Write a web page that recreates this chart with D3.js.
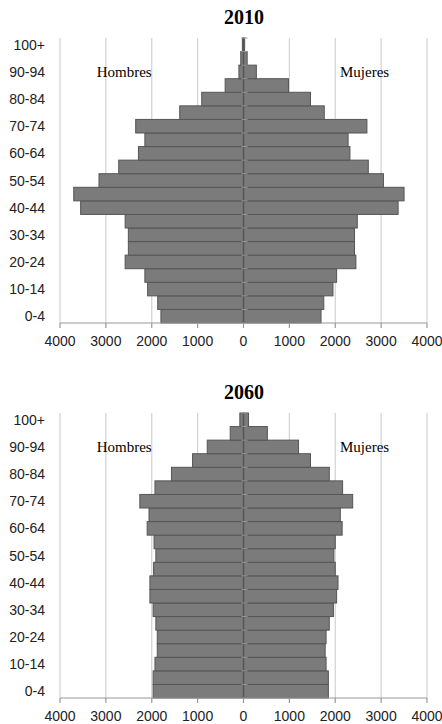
<!DOCTYPE html>
<html>
<head>
<meta charset="utf-8">
<script src="https://cdn.jsdelivr.net/npm/d3@7"></script>
<style>
  body { margin: 0; background: #fff; }
  svg { display: block; }
</style>
</head>
<body>
<svg id="chart"></svg>
<script>
// age groups, bottom to top
const ages = ["0-4","5-9","10-14","15-19","20-24","25-29","30-34","35-39","40-44","45-49",
  "50-54","55-59","60-64","65-69","70-74","75-79","80-84","85-89","90-94","95-99","100+"];

const hombres2010 = [1800,1870,2090,2150,2580,2510,2510,2580,3550,3700,3150,2720,2290,2150,2350,1390,910,400,100,60,25];
const mujeres2010 = [1690,1750,1950,2030,2450,2420,2420,2480,3370,3500,3050,2720,2320,2280,2690,1760,1460,980,280,80,25];

const hombres2060 = [1970,1970,1930,1880,1880,1910,1970,2040,2040,1960,1910,1950,2100,2060,2260,1930,1570,1110,790,290,80];
const mujeres2060 = [1850,1850,1800,1780,1800,1870,1960,2030,2060,2000,1970,2000,2150,2110,2380,2160,1870,1460,1200,520,110];

const xTicks = [-4000,-3000,-2000,-1000,0,1000,2000,3000,4000];

const width = 442, height = 724;
const svg = d3.select("#chart").attr("width", width).attr("height", height);

const x = d3.scaleLinear().domain([-4000, 4000]).range([60, 427]);

function pyramid(title, hombres, mujeres, top, bottom) {
  const g = svg.append("g");
  const y = d3.scaleBand().domain(ages.slice().reverse()).range([top, bottom]).padding(0);

  g.append("text")
    .attr("x", 244).attr("y", top - 14)
    .attr("text-anchor", "middle")
    .attr("font-family", "Liberation Serif, Times New Roman, serif")
    .attr("font-weight", "bold")
    .attr("font-size", "20px")
    .text(title);

  // gridlines
  g.selectAll(".grid")
    .data(xTicks.filter(t => t !== 0))
    .enter().append("line")
    .attr("x1", d => x(d)).attr("x2", d => x(d))
    .attr("y1", top).attr("y2", bottom)
    .attr("stroke", "#d2d2d2").attr("stroke-width", 1.2);

  const rows = ages.map((a, i) => ({ age: a, h: hombres[i], m: mujeres[i] }));

  g.selectAll(".h")
    .data(rows)
    .enter().append("rect")
    .attr("x", d => x(-d.h))
    .attr("y", d => y(d.age))
    .attr("width", d => x(0) - x(-d.h))
    .attr("height", y.bandwidth())
    .attr("fill", "#7b7b7b").attr("stroke", "#555").attr("stroke-width", 1);

  g.selectAll(".m")
    .data(rows)
    .enter().append("rect")
    .attr("x", x(0))
    .attr("y", d => y(d.age))
    .attr("width", d => x(d.m) - x(0))
    .attr("height", y.bandwidth())
    .attr("fill", "#7b7b7b").attr("stroke", "#555").attr("stroke-width", 1);

  // centre axis with small ticks at band edges
  g.append("line")
    .attr("x1", x(0)).attr("x2", x(0))
    .attr("y1", top).attr("y2", bottom)
    .attr("stroke", "#555").attr("stroke-width", 1.5);
  g.selectAll(".ct")
    .data(ages)
    .enter().append("line")
    .attr("x1", x(0) - 2).attr("x2", x(0) + 4)
    .attr("y1", d => y(d)).attr("y2", d => y(d))
    .attr("stroke", "#999").attr("stroke-width", 1);

  // age labels, every other group
  g.selectAll(".yl")
    .data(ages.filter((a, i) => i % 2 === 0))
    .enter().append("text")
    .attr("x", 45)
    .attr("y", d => y(d) + y.bandwidth() / 2 + 5)
    .attr("text-anchor", "end")
    .attr("font-family", "Liberation Sans, Arial, sans-serif")
    .attr("font-size", "14px")
    .attr("fill", "#222")
    .text(d => d);

  // bottom axis
  g.append("line")
    .attr("x1", x(-4000)).attr("x2", x(4000))
    .attr("y1", bottom).attr("y2", bottom)
    .attr("stroke", "#999").attr("stroke-width", 1.2);
  g.selectAll(".xt")
    .data(xTicks)
    .enter().append("line")
    .attr("x1", d => x(d)).attr("x2", d => x(d))
    .attr("y1", bottom).attr("y2", bottom + 5)
    .attr("stroke", "#999").attr("stroke-width", 1.2);
  g.selectAll(".xl")
    .data(xTicks)
    .enter().append("text")
    .attr("x", d => x(d))
    .attr("y", bottom + 23)
    .attr("text-anchor", "middle")
    .attr("font-family", "Liberation Sans, Arial, sans-serif")
    .attr("font-size", "14px")
    .attr("fill", "#222")
    .text(d => Math.abs(d));

  const lblY = y("90-94") + y.bandwidth() / 2 + 5;
  g.append("text")
    .attr("x", x(-2600)).attr("y", lblY)
    .attr("text-anchor", "middle")
    .attr("font-family", "Liberation Serif, Times New Roman, serif")
    .attr("font-size", "15px")
    .text("Hombres");
  g.append("text")
    .attr("x", x(2640)).attr("y", lblY)
    .attr("text-anchor", "middle")
    .attr("font-family", "Liberation Serif, Times New Roman, serif")
    .attr("font-size", "15px")
    .text("Mujeres");
}

pyramid("2010", hombres2010, mujeres2010, 38, 323);
pyramid("2060", hombres2060, mujeres2060, 413, 698);
</script>
</body>
</html>
